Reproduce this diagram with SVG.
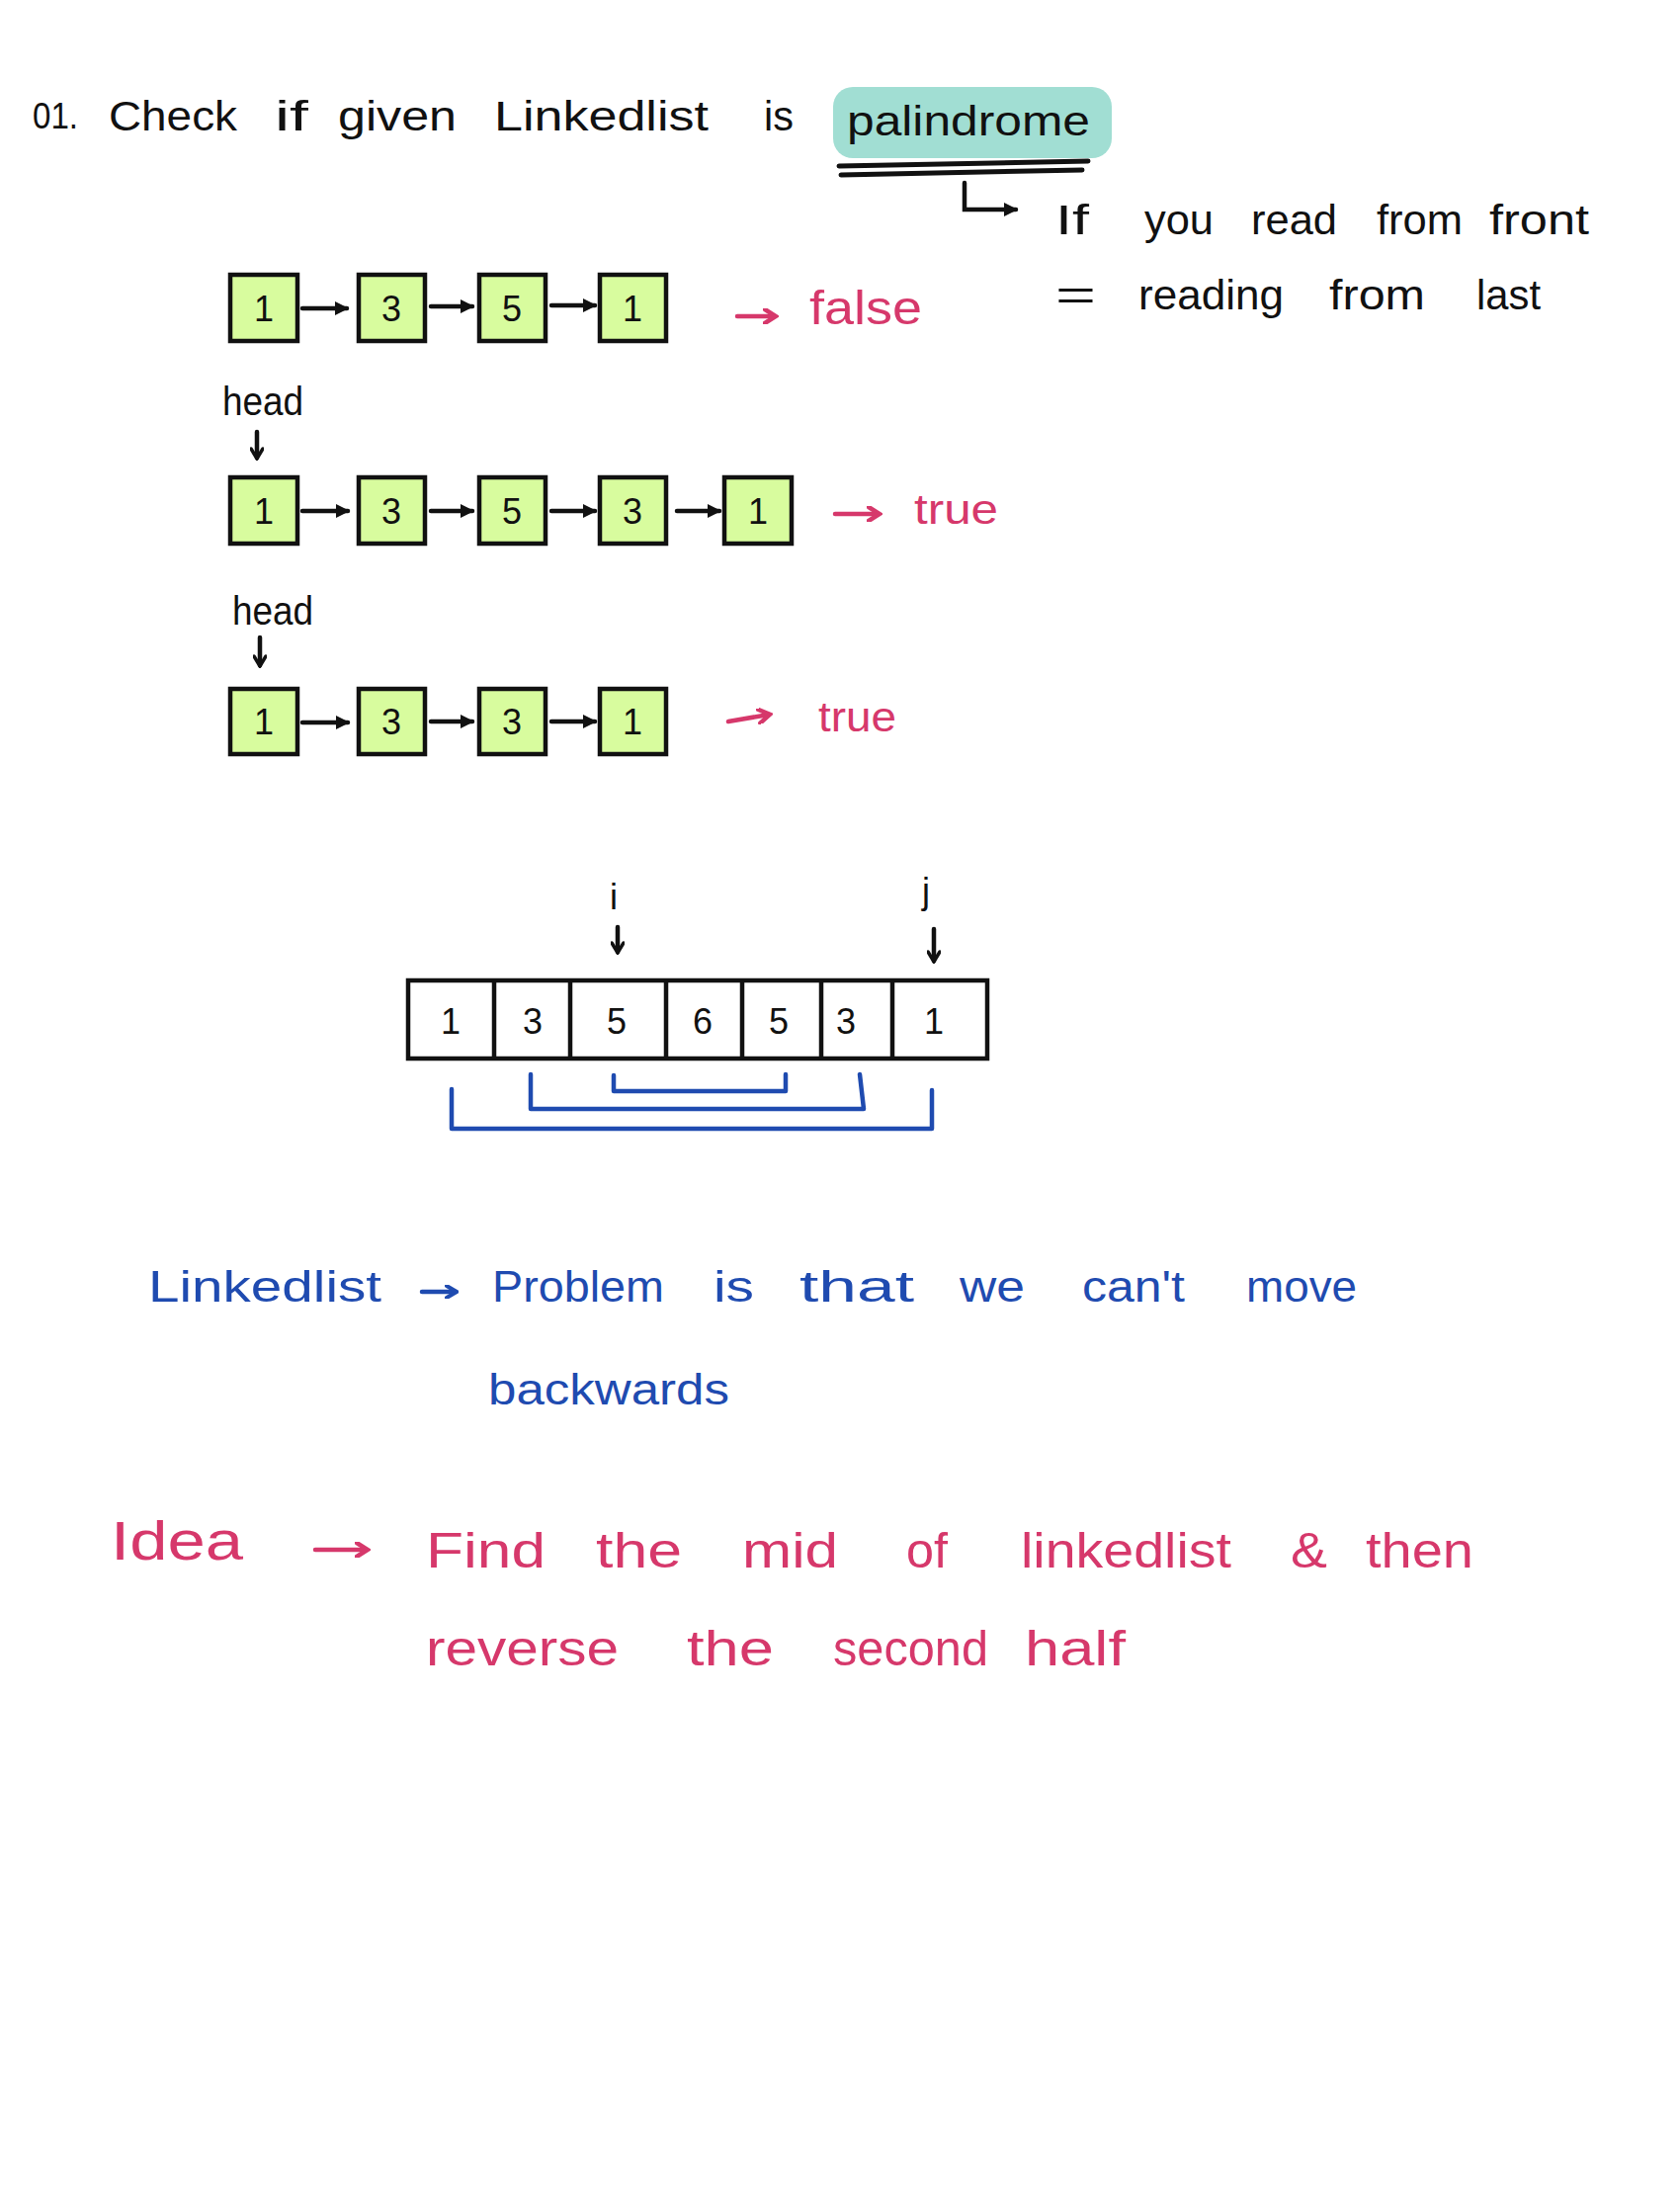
<svg xmlns="http://www.w3.org/2000/svg" width="1700" height="2232" viewBox="0 0 1700 2232">
<style>
.t{font-family:"Liberation Sans","DejaVu Sans",sans-serif;}
.k{fill:#111;}
.p{fill:#d6386b;}
.b{fill:#1f4bb0;}
.box{fill:#d8fc9e;stroke:#111;stroke-width:4.5;}
.num{font-family:"Liberation Sans",sans-serif;font-size:36px;fill:#111;text-anchor:middle;}
.ck{stroke:#111;stroke-width:4.5;fill:none;stroke-linecap:round;}
.cp{stroke:#d6386b;stroke-width:4.5;fill:none;stroke-linecap:round;}
.cb{stroke:#1f4bb0;stroke-width:4.5;fill:none;stroke-linecap:round;stroke-linejoin:round;}
.cell{fill:none;stroke:#111;stroke-width:4.5;}
</style>
<defs>
<marker id="ak" markerUnits="userSpaceOnUse" markerWidth="16" markerHeight="16" refX="12" refY="8" orient="auto"><path d="M0,1 L14,8 L0,15 Z" fill="#111"/></marker>
<marker id="ap" markerUnits="userSpaceOnUse" markerWidth="16" markerHeight="16" refX="12" refY="8" orient="auto"><path d="M2,1 L13,8 L2,15" fill="none" stroke="#d6386b" stroke-width="4.5" stroke-linecap="round"/></marker>
<marker id="ad" markerUnits="userSpaceOnUse" markerWidth="14" markerHeight="14" refX="11" refY="7" orient="auto"><path d="M2,1 L12,7 L2,13" fill="none" stroke="#111" stroke-width="3.5" stroke-linecap="round"/></marker>
<marker id="apb" markerUnits="userSpaceOnUse" markerWidth="14" markerHeight="14" refX="11" refY="7" orient="auto"><path d="M2,1 L12,7 L2,13" fill="none" stroke="#1f4bb0" stroke-width="4" stroke-linecap="round"/></marker>
</defs>
<rect width="1700" height="2232" fill="#fff"/>

<g id="title">
<rect x="843" y="88" width="282" height="72" rx="20" fill="#a1ded3"/>
<text class="t k" x="33" y="130" font-size="36" textLength="46" lengthAdjust="spacingAndGlyphs">01.</text>
<text class="t k" x="110" y="132" font-size="42" textLength="130" lengthAdjust="spacingAndGlyphs">Check</text>
<text class="t k" x="278" y="132" font-size="42" textLength="34" lengthAdjust="spacingAndGlyphs">if</text>
<text class="t k" x="342" y="132" font-size="42" textLength="120" lengthAdjust="spacingAndGlyphs">given</text>
<text class="t k" x="500" y="132" font-size="42" textLength="217" lengthAdjust="spacingAndGlyphs">Linkedlist</text>
<text class="t k" x="773" y="132" font-size="42" textLength="30" lengthAdjust="spacingAndGlyphs">is</text>
<text class="t k" x="857" y="137" font-size="42" textLength="246" lengthAdjust="spacingAndGlyphs">palindrome</text>
<path d="M849 168 L1101 163" stroke="#111" stroke-width="5" stroke-linecap="round"/>
<path d="M851 177 L1095 172" stroke="#111" stroke-width="5" stroke-linecap="round"/>
</g>

<g id="definition">
<text class="t k" x="1068" y="237" font-size="42" textLength="34" lengthAdjust="spacingAndGlyphs">If</text>
<text class="t k" x="1158" y="237" font-size="42" textLength="70" lengthAdjust="spacingAndGlyphs">you</text>
<text class="t k" x="1266" y="237" font-size="42" textLength="87" lengthAdjust="spacingAndGlyphs">read</text>
<text class="t k" x="1393" y="237" font-size="42" textLength="87" lengthAdjust="spacingAndGlyphs">from</text>
<text class="t k" x="1507" y="237" font-size="42" textLength="101" lengthAdjust="spacingAndGlyphs">front</text>
<text class="t k" x="1068" y="313" font-size="42" textLength="41" lengthAdjust="spacingAndGlyphs">=</text>
<text class="t k" x="1152" y="313" font-size="42" textLength="147" lengthAdjust="spacingAndGlyphs">reading</text>
<text class="t k" x="1345" y="313" font-size="42" textLength="97" lengthAdjust="spacingAndGlyphs">from</text>
<text class="t k" x="1494" y="313" font-size="42" textLength="65" lengthAdjust="spacingAndGlyphs">last</text>
</g>

<g id="row1">
<g id="r1n1"><rect class="box" x="233" y="278" width="68" height="67"/><text class="num" x="267" y="325">1</text></g>
<g id="r1n2"><rect class="box" x="363" y="278" width="67" height="67"/><text class="num" x="396" y="325">3</text></g>
<g id="r1n3"><rect class="box" x="485" y="278" width="67" height="67"/><text class="num" x="518" y="325">5</text></g>
<g id="r1n4"><rect class="box" x="607" y="278" width="67" height="67"/><text class="num" x="640" y="325">1</text></g>
<text class="t p" x="819" y="328" font-size="48" textLength="114" lengthAdjust="spacingAndGlyphs">false</text>
</g>

<g id="head1">
<text class="t k" x="225" y="420" font-size="40" textLength="82" lengthAdjust="spacingAndGlyphs">head</text>
</g>

<g id="row2">
<g id="r2n1"><rect class="box" x="233" y="483" width="68" height="67"/><text class="num" x="267" y="530">1</text></g>
<g id="r2n2"><rect class="box" x="363" y="483" width="67" height="67"/><text class="num" x="396" y="530">3</text></g>
<g id="r2n3"><rect class="box" x="485" y="483" width="67" height="67"/><text class="num" x="518" y="530">5</text></g>
<g id="r2n4"><rect class="box" x="607" y="483" width="67" height="67"/><text class="num" x="640" y="530">3</text></g>
<g id="r2n5"><rect class="box" x="733" y="483" width="68" height="67"/><text class="num" x="767" y="530">1</text></g>
<text class="t p" x="925" y="530" font-size="42" textLength="85" lengthAdjust="spacingAndGlyphs">true</text>
</g>

<g id="head2">
<text class="t k" x="235" y="632" font-size="40" textLength="82" lengthAdjust="spacingAndGlyphs">head</text>
</g>

<g id="row3">
<g id="r3n1"><rect class="box" x="233" y="697" width="68" height="66"/><text class="num" x="267" y="743">1</text></g>
<g id="r3n2"><rect class="box" x="363" y="697" width="67" height="66"/><text class="num" x="396" y="743">3</text></g>
<g id="r3n3"><rect class="box" x="485" y="697" width="67" height="66"/><text class="num" x="518" y="743">3</text></g>
<g id="r3n4"><rect class="box" x="607" y="697" width="67" height="66"/><text class="num" x="640" y="743">1</text></g>
<text class="t p" x="828" y="740" font-size="42" textLength="79" lengthAdjust="spacingAndGlyphs">true</text>
</g>

<g id="array">
<rect class="cell" x="413" y="992" width="586" height="79" fill="#fff"/>
<path class="cell" d="M500 992 V1071 M577 992 V1071 M674 992 V1071 M751 992 V1071 M831 992 V1071 M903 992 V1071"/>
<text class="num" x="456" y="1046">1</text>
<text class="num" x="539" y="1046">3</text>
<text class="num" x="624" y="1046">5</text>
<text class="num" x="711" y="1046">6</text>
<text class="num" x="788" y="1046">5</text>
<text class="num" x="856" y="1046">3</text>
<text class="num" x="945" y="1046">1</text>
<text class="t k" x="621" y="920" font-size="36" text-anchor="middle">i</text>
<text class="t k" x="937" y="914" font-size="36" text-anchor="middle">j</text>
</g>

<g id="notes-blue">
<text class="t b" x="150" y="1317" font-size="44" textLength="236" lengthAdjust="spacingAndGlyphs">Linkedlist</text>
<text class="t b" x="498" y="1317" font-size="44" textLength="174" lengthAdjust="spacingAndGlyphs">Problem</text>
<text class="t b" x="722" y="1317" font-size="44" textLength="41" lengthAdjust="spacingAndGlyphs">is</text>
<text class="t b" x="809" y="1317" font-size="44" textLength="116" lengthAdjust="spacingAndGlyphs">that</text>
<text class="t b" x="971" y="1317" font-size="44" textLength="66" lengthAdjust="spacingAndGlyphs">we</text>
<text class="t b" x="1095" y="1317" font-size="44" textLength="104" lengthAdjust="spacingAndGlyphs">can't</text>
<text class="t b" x="1261" y="1317" font-size="44" textLength="112" lengthAdjust="spacingAndGlyphs">move</text>
<text class="t b" x="494" y="1421" font-size="44" textLength="244" lengthAdjust="spacingAndGlyphs">backwards</text>
</g>

<g id="notes-idea">
<text class="t p" x="112" y="1578" font-size="56" textLength="134" lengthAdjust="spacingAndGlyphs">Idea</text>
<text class="t p" x="431" y="1586" font-size="50" textLength="121" lengthAdjust="spacingAndGlyphs">Find</text>
<text class="t p" x="603" y="1586" font-size="50" textLength="87" lengthAdjust="spacingAndGlyphs">the</text>
<text class="t p" x="751" y="1586" font-size="50" textLength="97" lengthAdjust="spacingAndGlyphs">mid</text>
<text class="t p" x="917" y="1586" font-size="50" textLength="42" lengthAdjust="spacingAndGlyphs">of</text>
<text class="t p" x="1033" y="1586" font-size="50" textLength="213" lengthAdjust="spacingAndGlyphs">linkedlist</text>
<text class="t p" x="1306" y="1586" font-size="50" textLength="37" lengthAdjust="spacingAndGlyphs">&amp;</text>
<text class="t p" x="1382" y="1586" font-size="50" textLength="109" lengthAdjust="spacingAndGlyphs">then</text>
<text class="t p" x="431" y="1685" font-size="50" textLength="195" lengthAdjust="spacingAndGlyphs">reverse</text>
<text class="t p" x="695" y="1685" font-size="50" textLength="88" lengthAdjust="spacingAndGlyphs">the</text>
<text class="t p" x="843" y="1685" font-size="50" textLength="157" lengthAdjust="spacingAndGlyphs">second</text>
<text class="t p" x="1037" y="1685" font-size="50" textLength="102" lengthAdjust="spacingAndGlyphs">half</text>
</g>

<g id="connectors">
<path class="ck" d="M976 185 V212 H1028" marker-end="url(#ak)"/>
<path class="ck" d="M306 312 H351" marker-end="url(#ak)"/>
<path class="ck" d="M436 310 H478" marker-end="url(#ak)"/>
<path class="ck" d="M558 309 H602" marker-end="url(#ak)"/>
<path class="ck" d="M306 517 H352" marker-end="url(#ak)"/>
<path class="ck" d="M436 517 H478" marker-end="url(#ak)"/>
<path class="ck" d="M558 517 H602" marker-end="url(#ak)"/>
<path class="ck" d="M685 517 H728" marker-end="url(#ak)"/>
<path class="ck" d="M306 731 H352" marker-end="url(#ak)"/>
<path class="ck" d="M436 730 H478" marker-end="url(#ak)"/>
<path class="ck" d="M558 730 H602" marker-end="url(#ak)"/>
<path class="cp" d="M746 320 H784" marker-end="url(#ap)"/>
<path class="cp" d="M845 520 H889" marker-end="url(#ap)"/>
<path class="cp" d="M737 730 L778 723" marker-end="url(#ap)"/>
<path class="ck" d="M260 437 V463" stroke-width="3.5" marker-end="url(#ad)"/>
<path class="ck" d="M263 645 V673" stroke-width="3.5" marker-end="url(#ad)"/>
<path class="ck" d="M625 938 V963" stroke-width="3.5" marker-end="url(#ad)"/>
<path class="ck" d="M945 940 V972" stroke-width="3.5" marker-end="url(#ad)"/>
<path class="cb" d="M621 1088 V1104 H795 V1087"/>
<path class="cb" d="M537 1087 V1122 H874 L870 1087"/>
<path class="cb" d="M457 1102 V1142 H943 V1103"/>
<path class="cb" d="M427 1307 H461" marker-end="url(#apb)"/>
<path class="cp" d="M319 1568 H371" marker-end="url(#ap)"/>
</g>
</svg>
